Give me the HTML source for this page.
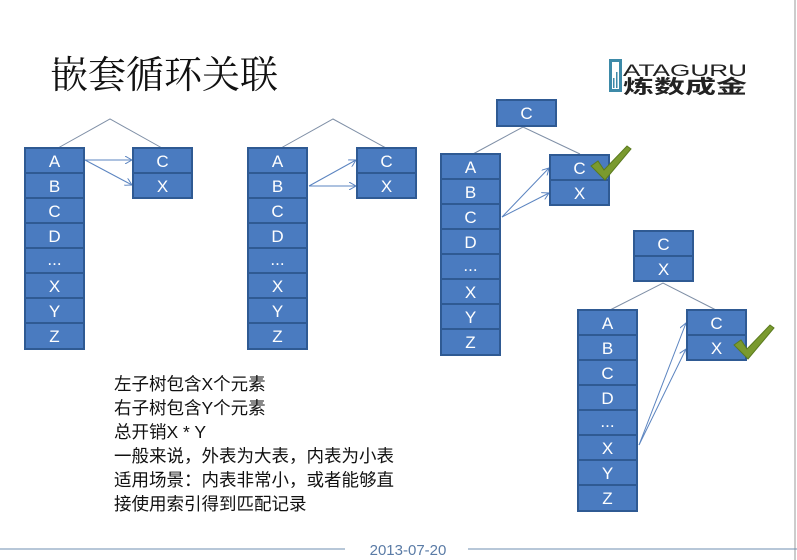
<!DOCTYPE html>
<html><head><meta charset="utf-8"><style>
html,body{margin:0;padding:0;background:#fff;}
svg{display:block;}
</style></head><body>
<svg width="797" height="560" viewBox="0 0 797 560" xmlns="http://www.w3.org/2000/svg">
<defs>
<marker id="ar" markerWidth="8" markerHeight="8" refX="7" refY="4" orient="auto" markerUnits="userSpaceOnUse">
<path d="M0,0 L7,4 L0,8" fill="none" stroke="#5b84c0" stroke-width="1"/>
</marker>
<g id="col">
<rect x="0" y="0" width="59" height="201" fill="#4a7bc0" stroke="#2f5a93" stroke-width="2"/>
<g stroke="#2f5a93" stroke-width="2"><line x1="0" y1="25" x2="59" y2="25"/><line x1="0" y1="50" x2="59" y2="50"/><line x1="0" y1="75" x2="59" y2="75"/><line x1="0" y1="100" x2="59" y2="100"/><line x1="0" y1="125" x2="59" y2="125"/><line x1="0" y1="150" x2="59" y2="150"/><line x1="0" y1="175" x2="59" y2="175"/></g>
<g fill="#fff" font-family="Liberation Sans, sans-serif" font-size="17" text-anchor="middle">
<text x="29.5" y="19">A</text><text x="29.5" y="44">B</text><text x="29.5" y="69">C</text><text x="29.5" y="94">D</text><text x="29.5" y="117">...</text><text x="29.5" y="144">X</text><text x="29.5" y="169">Y</text><text x="29.5" y="194">Z</text></g>
</g>
<g id="cx">
<rect x="0" y="0" width="59" height="50" fill="#4a7bc0" stroke="#2f5a93" stroke-width="2"/>
<line x1="0" y1="25" x2="59" y2="25" stroke="#2f5a93" stroke-width="2"/>
<g fill="#fff" font-family="Liberation Sans, sans-serif" font-size="17" text-anchor="middle"><text x="29.5" y="19">C</text><text x="29.5" y="44">X</text></g>
</g>
<path id="chk" d="M0,12 L7,7 L13,16 L36,-8 L40,-5 L14,26 Z" fill="#7a9a2e" stroke="#5a7a1e" stroke-width="1"/>
</defs>
<line x1="795" y1="0" x2="795" y2="560" stroke="#999" stroke-width="1"/>
<text x="50" y="88" font-family="Liberation Serif, 'Noto Serif CJK SC', serif" font-size="38" fill="#111">嵌套循环关联</text>
<!-- logo -->
<rect x="609" y="59" width="13" height="33" fill="#3d8aa8"/>
<rect x="612" y="62" width="7" height="27" fill="#fff"/>
<rect x="613" y="78" width="1.5" height="10" fill="#3d8aa8"/>
<rect x="616" y="72" width="1.5" height="16" fill="#3d8aa8"/>
<text x="623" y="76" font-family="Liberation Sans, sans-serif" font-size="17" fill="#222" textLength="124" lengthAdjust="spacingAndGlyphs">ATAGURU</text>
<text x="623" y="93" font-family="Liberation Sans, 'Noto Sans CJK SC', sans-serif" font-weight="bold" font-size="19" fill="#222" textLength="124" lengthAdjust="spacingAndGlyphs">炼数成金</text>
<g fill="none" stroke="#7f8fa6" stroke-width="1">
<polyline points="58,148 110,119 162,148"/>
<polyline points="281,148 333,119 386,148"/>
<polyline points="473,154 523,127 580,154"/>
<polyline points="610,310 663,283 716,310"/>
</g>
<g stroke="#5b84c0" stroke-width="1">
<line x1="85" y1="160" x2="132" y2="160" marker-end="url(#ar)"/>
<line x1="85" y1="160" x2="132" y2="185" marker-end="url(#ar)"/>
<line x1="309" y1="186" x2="356" y2="160" marker-end="url(#ar)"/>
<line x1="309" y1="186" x2="356" y2="186" marker-end="url(#ar)"/>
<line x1="502" y1="217" x2="549" y2="168" marker-end="url(#ar)"/>
<line x1="502" y1="217" x2="549" y2="193" marker-end="url(#ar)"/>
<line x1="639" y1="445" x2="686" y2="323" marker-end="url(#ar)"/>
<line x1="639" y1="445" x2="686" y2="349" marker-end="url(#ar)"/>
</g>
<use href="#col" x="25" y="148"/>
<use href="#cx" x="133" y="148"/>
<use href="#col" x="248" y="148"/>
<use href="#cx" x="357" y="148"/>
<rect x="497" y="100" width="59" height="26" fill="#4a7bc0" stroke="#2f5a93" stroke-width="2"/>
<text x="526.5" y="119" fill="#fff" font-family="Liberation Sans, sans-serif" font-size="17" text-anchor="middle">C</text>
<use href="#col" x="441" y="154"/>
<use href="#cx" x="550" y="155"/>
<use href="#chk" x="591" y="154"/>
<use href="#cx" x="634" y="231"/>
<use href="#col" x="578" y="310"/>
<use href="#cx" x="687" y="310"/>
<use href="#chk" x="734" y="333"/>
<g font-family="Liberation Sans, 'Noto Sans CJK SC', sans-serif" font-size="17.5" fill="#111">
<text x="114" y="390">左子树包含X个元素</text>
<text x="114" y="414">右子树包含Y个元素</text>
<text x="114" y="438">总开销X * Y</text>
<text x="114" y="462">一般来说，外表为大表，内表为小表</text>
<text x="114" y="486">适用场景：内表非常小，或者能够直</text>
<text x="114" y="510">接使用索引得到匹配记录</text>
</g>
<line x1="0" y1="549" x2="345" y2="549" stroke="#6f8fb0" stroke-width="1"/>
<line x1="468" y1="549" x2="797" y2="549" stroke="#6f8fb0" stroke-width="1"/>
<text x="408" y="555" text-anchor="middle" font-family="Liberation Sans, sans-serif" font-size="15" fill="#5a7ba6">2013-07-20</text>
</svg>
</body></html>
